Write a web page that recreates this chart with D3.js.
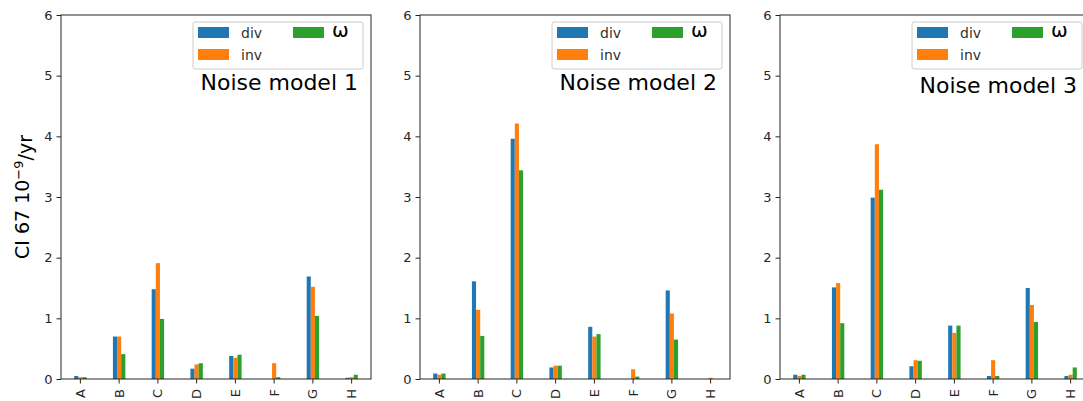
<!DOCTYPE html>
<html>
<head>
<meta charset="utf-8">
<script src="https://cdn.jsdelivr.net/npm/d3@7"></script>
<style>
  body { margin: 0; background: #fff; }
  text { font-family: "DejaVu Sans", sans-serif; fill: #262626; }
</style>
</head>
<body>
<div id="chart"></div>
<script>
// categories and series
var categories = ["A", "B", "C", "D", "E", "F", "G", "H"];
var seriesNames = ["div", "inv", "ω"];
var seriesColors = ["#1f77b4", "#ff7f0e", "#2ca02c"];
var panelTitles = ["Noise model 1", "Noise model 2", "Noise model 3"];
var yTicks = [0, 1, 2, 3, 4, 5, 6];

// values per panel: [div, inv, omega] per category
var model1Div = [0.05, 0.70, 1.48, 0.17, 0.38, 0.00, 1.69, 0.02];
var model1Inv = [0.03, 0.70, 1.91, 0.24, 0.35, 0.26, 1.52, 0.03];
var model1Omega = [0.03, 0.41, 0.99, 0.26, 0.40, 0.03, 1.04, 0.07];

var model2Div = [0.09, 1.61, 3.96, 0.19, 0.86, 0.00, 1.46, 0.00];
var model2Inv = [0.07, 1.14, 4.21, 0.22, 0.70, 0.16, 1.08, 0.02];
var model2Omega = [0.09, 0.71, 3.44, 0.22, 0.74, 0.04, 0.65, 0.00];

var model3Div = [0.07, 1.51, 2.99, 0.21, 0.88, 0.05, 1.50, 0.05];
var model3Inv = [0.05, 1.58, 3.87, 0.31, 0.76, 0.31, 1.22, 0.07];
var model3Omega = [0.07, 0.92, 3.12, 0.30, 0.88, 0.05, 0.94, 0.19];

var panels = [
    [model1Div, model1Inv, model1Omega],
    [model2Div, model2Inv, model2Omega],
    [model3Div, model3Inv, model3Omega]
];

var svgWidth = 1083, svgHeight = 401;
var panelLefts = [61, 420, 780];
var panelWidth = 310;
var plotTop = 15, plotBottom = 379;

var svg = d3.select("#chart").append("svg")
    .attr("width", svgWidth)
    .attr("height", svgHeight);

var yScale = d3.scaleLinear().domain([0, 6]).range([plotBottom, plotTop]);

panels.forEach(function(series, p) {
    var left = panelLefts[p];
    var g = svg.append("g").attr("transform", "translate(" + left + ",0)");

    var xScale = d3.scaleBand().domain(categories).range([0, panelWidth]).padding(0);
    var groupWidth = xScale.bandwidth() * 0.32;
    var xInner = d3.scaleBand().domain(seriesNames)
        .range([-groupWidth / 2, groupWidth / 2]);

    // bars
    series.forEach(function(values, s) {
        g.append("g").selectAll("rect")
            .data(values)
            .join("rect")
            .attr("x", function(d, i) { return xScale(categories[i]) + xScale.bandwidth() / 2 + xInner(seriesNames[s]); })
            .attr("y", function(d) { return yScale(d); })
            .attr("width", xInner.bandwidth())
            .attr("height", function(d) { return plotBottom - yScale(d); })
            .attr("fill", seriesColors[s]);
    });

    // y axis
    var yAxis = g.append("g").call(d3.axisLeft(yScale).tickValues(yTicks)
        .tickFormat(d3.format("d")).tickSize(4.5).tickPadding(4));
    yAxis.select(".domain").remove();
    yAxis.selectAll("line").attr("stroke", "#262626");
    yAxis.selectAll("text").style("font-size", "13px").attr("fill", "#262626");

    // x axis
    var xAxis = g.append("g").attr("transform", "translate(0," + plotBottom + ")")
        .call(d3.axisBottom(xScale).tickSize(4.5).tickPadding(4));
    xAxis.select(".domain").remove();
    xAxis.selectAll("line").attr("stroke", "#262626");
    xAxis.selectAll("text")
        .style("font-size", "13px")
        .attr("fill", "#262626")
        .attr("transform", "rotate(-90)")
        .attr("text-anchor", "end")
        .attr("dy", "0.35em")
        .attr("x", -10)
        .attr("y", 0);

    // frame
    g.append("rect")
        .attr("x", 0).attr("y", plotTop)
        .attr("width", panelWidth).attr("height", plotBottom - plotTop)
        .attr("fill", "none").attr("stroke", "#262626").attr("stroke-width", 1);

    // legend
    var lg = g.append("g").attr("transform", "translate(" + (panelWidth - 178) + "," + (plotTop + 7) + ")");
    lg.append("rect")
        .attr("width", 170).attr("height", 47).attr("rx", 2)
        .attr("fill", "#fff").attr("fill-opacity", 0.8)
        .attr("stroke", "#ccc");
    var legendPos = [[5, 5], [5, 27], [100, 5]];
    seriesNames.forEach(function(name, s) {
        lg.append("rect")
            .attr("x", legendPos[s][0]).attr("y", legendPos[s][1])
            .attr("width", 31).attr("height", 11)
            .attr("fill", seriesColors[s]);
        lg.append("text")
            .attr("x", legendPos[s][0] + (s === 2 ? 39 : 43))
            .attr("y", legendPos[s][1] + (s === 2 ? 10 : 11))
            .style("font-size", s === 2 ? "20px" : "14px")
            .style("fill", s === 2 ? "#000" : "#333")
            .text(name);
    });

    // panel title
    g.append("text")
        .attr("x", panelWidth - 13)
        .attr("y", p === 2 ? 93 : 90)
        .attr("text-anchor", "end")
        .style("font-size", "22px")
        .style("fill", "#000")
        .text(panelTitles[p]);
});

// y label
var yLabel = svg.append("text")
    .attr("transform", "translate(29," + ((plotTop + plotBottom) / 2) + ") rotate(-90)")
    .attr("text-anchor", "middle")
    .style("font-size", "19px")
    .style("fill", "#000");
yLabel.append("tspan").text("CI 67 10");
yLabel.append("tspan").attr("dy", "-0.45em").style("font-size", "13px").text("−9");
yLabel.append("tspan").attr("dy", "0.45em").text("/yr");
</script>
</body>
</html>
